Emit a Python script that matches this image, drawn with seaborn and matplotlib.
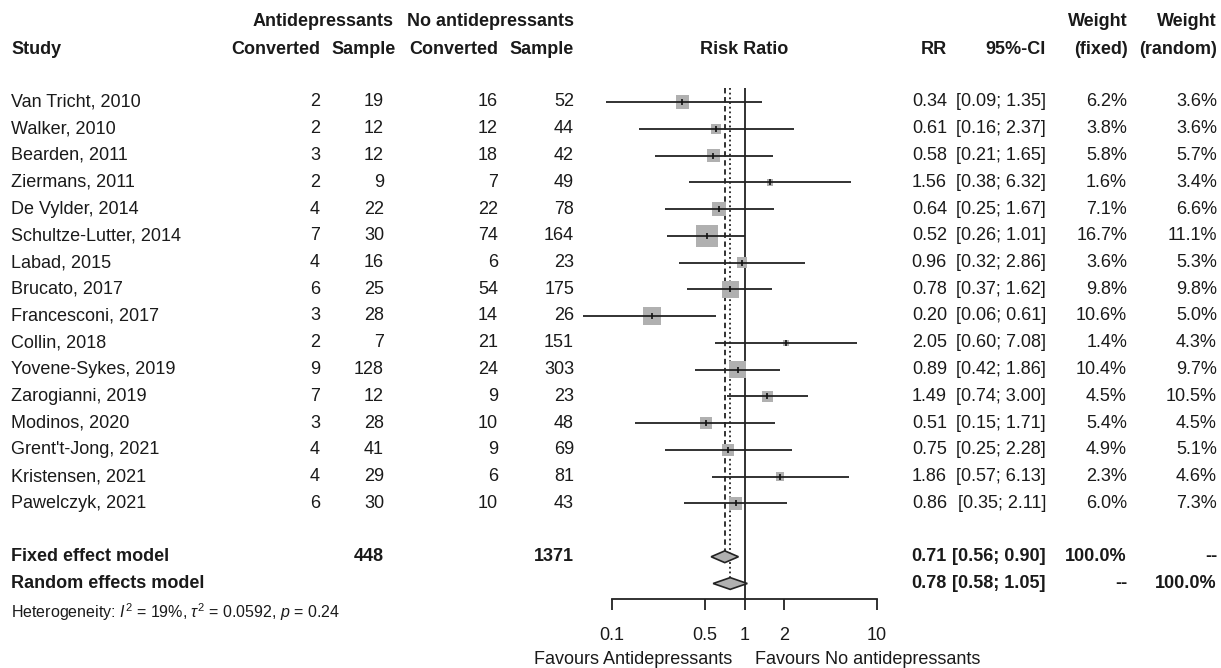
import numpy as np
import pandas as pd
import seaborn as sns
import matplotlib.pyplot as plt
from matplotlib.transforms import blended_transform_factory

studies = ['Van Tricht, 2010', 'Walker, 2010', 'Bearden, 2011', 'Ziermans, 2011',
           'De Vylder, 2014', 'Schultze-Lutter, 2014', 'Labad, 2015', 'Brucato, 2017',
           'Francesconi, 2017', 'Collin, 2018', 'Yovene-Sykes, 2019', 'Zarogianni, 2019',
           'Modinos, 2020', "Grent't-Jong, 2021", 'Kristensen, 2021', 'Pawelczyk, 2021']
conv_ad = [2, 2, 3, 2, 4, 7, 4, 6, 3, 2, 9, 7, 3, 4, 4, 6]
n_ad = [19, 12, 12, 9, 22, 30, 16, 25, 28, 7, 128, 12, 28, 41, 29, 30]
conv_no = [16, 12, 18, 7, 22, 74, 6, 54, 14, 21, 24, 9, 10, 9, 6, 10]
n_no = [52, 44, 42, 49, 78, 164, 23, 175, 26, 151, 303, 23, 48, 69, 81, 43]
rr = [0.34, 0.61, 0.58, 1.56, 0.64, 0.52, 0.96, 0.78, 0.20, 2.05, 0.89, 1.49, 0.51, 0.75, 1.86, 0.86]
ci_low = [0.09, 0.16, 0.21, 0.38, 0.25, 0.26, 0.32, 0.37, 0.06, 0.60, 0.42, 0.74, 0.15, 0.25, 0.57, 0.35]
ci_high = [1.35, 2.37, 1.65, 6.32, 1.67, 1.01, 2.86, 1.62, 0.61, 7.08, 1.86, 3.00, 1.71, 2.28, 6.13, 2.11]
w_fixed = [6.2, 3.8, 5.8, 1.6, 7.1, 16.7, 3.6, 9.8, 10.6, 1.4, 10.4, 4.5, 5.4, 4.9, 2.3, 6.0]
w_random = [3.6, 3.6, 5.7, 3.4, 6.6, 11.1, 5.3, 9.8, 5.0, 4.3, 9.7, 10.5, 4.5, 5.1, 4.6, 7.3]

fixed_est, fixed_low, fixed_high = 0.71, 0.56, 0.90
random_est, random_low, random_high = 0.78, 0.58, 1.05
total_ad, total_no = 448, 1371
x_ticks = [0.1, 0.5, 1, 2, 10]
x_ticklabels = ['0.1', '0.5', '1', '2', '10']

sns.set_theme(style='white')
plt.rcParams['font.family'] = ['Liberation Sans', 'DejaVu Sans']
plt.rcParams['mathtext.fontset'] = 'custom'
plt.rcParams['mathtext.rm'] = 'Liberation Sans'
plt.rcParams['mathtext.it'] = 'Liberation Sans:italic'

W, H = 1221, 668
txt = '#1a1a1a'
fs = 13

df = pd.DataFrame({'study': studies, 'rr': rr, 'lo': ci_low, 'hi': ci_high,
                   'wf': w_fixed, 'row': np.arange(len(studies))})

# row units: y_px = 102 + 26.75 * row
def row_of(ypx):
    return (ypx - 102) / 26.75

fig = plt.figure(figsize=(W / 100, H / 100), dpi=100)
ax = fig.add_axes([612 / W, 1 - 599 / H, (877 - 612) / W, (599 - 88) / H])
ax.set_xscale('log')
ax.set_xlim(0.1, 10)
ax.set_ylim(row_of(599), row_of(88))

# reference lines
ax.axvline(1, color='#222222', lw=1.3, zorder=1)
ax.vlines(fixed_est, row_of(88), 17 - 0.22, color='#222222', lw=1.3, linestyles=(0, (3, 2)), zorder=1)
ax.vlines(random_est, row_of(88), 18 - 0.22, color='#222222', lw=1.3, linestyles=(0, (1, 1.6)), zorder=1)

# squares sized by fixed weight
k = 14.6
sns.scatterplot(data=df, x='rr', y='row', size='wf', sizes=(k * df.wf.min(), k * df.wf.max()),
                marker='s', color='#b0b0b0', edgecolor='none', legend=False, ax=ax, zorder=2,
                clip_on=False)
ax.hlines(df.row, df.lo, df.hi, color='#222222', lw=1.3, zorder=3, clip_on=False)
ax.scatter(df.rr, df.row, marker='|', s=22, color='#111111', linewidths=1.2, zorder=4)

# diamonds
for est, lo, hi, r in [(fixed_est, fixed_low, fixed_high, 17), (random_est, random_low, random_high, 18)]:
    ax.fill([lo, est, hi, est], [r, r - 0.22, r, r + 0.22], facecolor='#b0b0b0',
            edgecolor='#222222', lw=1.2, zorder=3)

# axis
for s in ['top', 'left', 'right']:
    ax.spines[s].set_visible(False)
ax.spines['bottom'].set_bounds(0.1, 10)
ax.spines['bottom'].set_color('#222222')
ax.spines['bottom'].set_linewidth(1.3)
ax.set_xticks(x_ticks)
ax.set_xticklabels(x_ticklabels)
ax.minorticks_off()
ax.set_yticks([])
ax.tick_params(axis='x', direction='out', length=8, width=1.3, color='#222222',
               pad=12, labelsize=fs, labelcolor=txt, bottom=True)
ax.set_xlabel('')
ax.set_ylabel('')

tr = blended_transform_factory(fig.transFigure, ax.transData)


def put(xpx, row, s, ha='right', bold=False, size=fs):
    ax.text(xpx / W, row, s, transform=tr, ha=ha, va='center', fontsize=size,
            fontweight='bold' if bold else 'normal', color=txt, clip_on=False)


# headers
h1, h2 = row_of(22), row_of(50)
put(394, h1, 'Antidepressants', bold=True)
put(574, h1, 'No antidepressants', bold=True)
put(1128, h1, 'Weight', bold=True)
put(1217, h1, 'Weight', bold=True)
put(11, h2, 'Study', ha='left', bold=True)
put(320, h2, 'Converted', bold=True)
put(396, h2, 'Sample', bold=True)
put(498, h2, 'Converted', bold=True)
put(574, h2, 'Sample', bold=True)
put(744, h2, 'Risk Ratio', ha='center', bold=True)
put(947, h2, 'RR', bold=True)
put(1046, h2, '95%-CI', bold=True)
put(1128, h2, '(fixed)', bold=True)
put(1217, h2, '(random)', bold=True)

# study rows
for i in range(len(studies)):
    put(11, i, studies[i], ha='left')
    put(320, i, str(conv_ad[i]))
    put(384, i, str(n_ad[i]))
    put(498, i, str(conv_no[i]))
    put(574, i, str(n_no[i]))
    put(947, i, f'{rr[i]:.2f}')
    put(1046, i, f'[{ci_low[i]:.2f}; {ci_high[i]:.2f}]')
    put(1127, i, f'{w_fixed[i]:.1f}%')
    put(1217, i, f'{w_random[i]:.1f}%')

# pooled rows
put(11, 17, 'Fixed effect model', ha='left', bold=True)
put(384, 17, str(total_ad), bold=True)
put(574, 17, str(total_no), bold=True)
put(947, 17, f'{fixed_est:.2f}', bold=True)
put(1046, 17, f'[{fixed_low:.2f}; {fixed_high:.2f}]', bold=True)
put(1127, 17, '100.0%', bold=True)
put(1217, 17, '--', bold=True)

put(11, 18, 'Random effects model', ha='left', bold=True)
put(947, 18, f'{random_est:.2f}', bold=True)
put(1046, 18, f'[{random_low:.2f}; {random_high:.2f}]', bold=True)
put(1127, 18, '--', bold=True)
put(1217, 18, '100.0%', bold=True)

put(11, row_of(612), r'Heterogeneity: $I^2$ = 19%, $\tau^2$ = 0.0592, $p$ = 0.24', ha='left', size=11.5)

fig.text(732 / W, 1 - 660 / H, 'Favours Antidepressants', ha='right', va='center', fontsize=fs, color=txt)
fig.text(755 / W, 1 - 660 / H, 'Favours No antidepressants', ha='left', va='center', fontsize=fs, color=txt)

fig.savefig('out.png', dpi=100, facecolor='white')
